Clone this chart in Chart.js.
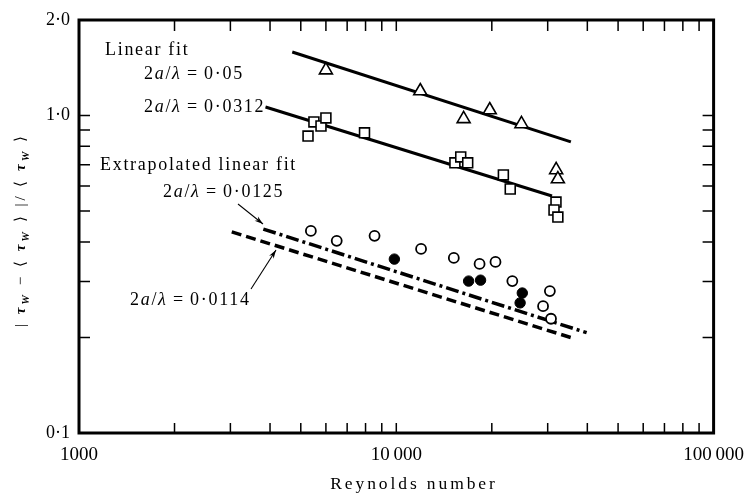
<!DOCTYPE html>
<html>
<head>
<meta charset="utf-8">
<script src="https://cdn.jsdelivr.net/npm/chart.js@4.4.1/dist/chart.umd.min.js"></script>
<style>
  html, body { margin: 0; padding: 0; background: #fff; }
</style>
</head>
<body>
<canvas id="reChart" width="755" height="498"></canvas>
<script>
// 2a/λ = 0.05 (triangles)
const triRe  = [6000, 11900, 16300, 19700, 24800, 31900, 32300];
const triVal = [1.39, 1.195, 0.976, 1.041, 0.941, 0.674, 0.631];
// 2a/λ = 0.0312 (squares)
const sqRe  = [5270, 5500, 5790, 6000, 7940, 15300, 15960, 16790, 21750, 22860, 31860, 31410, 32300];
const sqVal = [0.862, 0.955, 0.927, 0.983, 0.882, 0.710, 0.741, 0.710, 0.650, 0.587, 0.534, 0.504, 0.479];
// 2a/λ = 0.0125 (open circles) and 0.0114 (filled circles)
const openRe  = [5380, 6490, 8540, 11970, 15180, 18300, 20540, 23210, 30480, 29010, 30730];
const openVal = [0.433, 0.403, 0.418, 0.380, 0.356, 0.341, 0.346, 0.301, 0.280, 0.251, 0.229];
const fillRe  = [9860, 16900, 18430, 24950, 24560];
const fillVal = [0.353, 0.301, 0.303, 0.276, 0.257];

// fit lines (end points)
const fit005Re   = [4700, 35500];
const fit005Val  = [1.586, 0.826];
const fit0312Re  = [3870, 30950];
const fit0312Val = [1.064, 0.558];
const ext0125Re  = [3810, 39800];
const ext0125Val = [0.439, 0.207];
const ext0114Re  = [3030, 35980];
const ext0114Val = [0.430, 0.199];

// axes
const xTicks = [1000, 10000, 100000];
const xTickLabels = ['1000', '10\u2009000', '100\u2009000'];
const yTicks = [0.1, 1, 2];
const yTickLabels = ['0·1', '1·0', '2·0'];
const xMinor = [2000, 3000, 4000, 5000, 6000, 7000, 8000, 9000, 10000,
                20000, 30000, 40000, 50000, 60000, 70000, 80000, 90000];
const yMinor = [0.2, 0.3, 0.4, 0.5, 0.6, 0.7, 0.8, 0.9, 1.0];

const SERIF = '"Liberation Serif", "Times New Roman", serif';

function pts(xs, ys) {
  return xs.map((x, i) => ({ x: x, y: ys[i] }));
}

// draw a row of text pieces (italic / subscript) starting at x
function drawRuns(ctx, runs, x, y, size) {
  let cx = x;
  runs.forEach(r => {
    const fs = r.sub ? size * 0.72 : size;
    ctx.font = (r.b ? 'bold ' : '') + (r.it ? 'italic ' : '') + fs + 'px ' + SERIF;
    ctx.fillText(r.t, cx, y + (r.sub ? size * 0.28 : 0));
    cx += ctx.measureText(r.t).width;
  });
  return cx - x;
}
function runsWidth(ctx, runs, size) {
  let w = 0;
  runs.forEach(r => {
    const fs = r.sub ? size * 0.72 : size;
    ctx.font = (r.b ? 'bold ' : '') + (r.it ? 'italic ' : '') + fs + 'px ' + SERIF;
    w += ctx.measureText(r.t).width;
  });
  return w;
}
function ratio(v) {
  return [{ t: '2' }, { t: 'a', it: true }, { t: '/' }, { t: 'λ', it: true }, { t: '\u2009=\u2009' + v }];
}

function arrow(ctx, x1, y1, x2, y2) {
  const a = Math.atan2(y2 - y1, x2 - x1);
  ctx.beginPath();
  ctx.moveTo(x1, y1);
  ctx.lineTo(x2, y2);
  ctx.lineWidth = 1.1;
  ctx.stroke();
  ctx.beginPath();
  ctx.moveTo(x2, y2);
  ctx.lineTo(x2 - 9 * Math.cos(a - 0.3), y2 - 9 * Math.sin(a - 0.3));
  ctx.lineTo(x2 - 6 * Math.cos(a), y2 - 6 * Math.sin(a));
  ctx.lineTo(x2 - 9 * Math.cos(a + 0.3), y2 - 9 * Math.sin(a + 0.3));
  ctx.closePath();
  ctx.fill();
}

// box round the plot with inward ticks
const framePlugin = {
  id: 'frame',
  beforeDatasetsDraw(chart) {
    const { ctx, chartArea: a, scales } = chart;
    ctx.save();
    ctx.strokeStyle = '#000';
    ctx.lineWidth = 1.5;
    ctx.beginPath();
    xMinor.forEach(v => {
      const px = scales.x.getPixelForValue(v);
      ctx.moveTo(px, a.bottom); ctx.lineTo(px, a.bottom - 10);
      ctx.moveTo(px, a.top);    ctx.lineTo(px, a.top + 11);
    });
    yMinor.forEach(v => {
      const py = scales.y.getPixelForValue(v);
      ctx.moveTo(a.left, py);  ctx.lineTo(a.left + 11, py);
      ctx.moveTo(a.right, py); ctx.lineTo(a.right - 11, py);
    });
    ctx.stroke();
    ctx.lineWidth = 3;
    ctx.strokeRect(a.left, a.top, a.right - a.left, a.bottom - a.top);
    ctx.restore();
  },
  afterDraw(chart) {
    const ctx = chart.ctx;
    ctx.save();
    ctx.fillStyle = '#000';
    ctx.strokeStyle = '#000';
    ctx.textBaseline = 'alphabetic';
    ctx.textAlign = 'left';

    ctx.letterSpacing = '1.7px';
    drawRuns(ctx, [{ t: 'Linear fit' }], 105, 55, 18);
    drawRuns(ctx, ratio('0·05'), 144, 79, 18);
    drawRuns(ctx, ratio('0·0312'), 144, 112, 18);
    drawRuns(ctx, [{ t: 'Extrapolated linear fit' }], 100, 170, 18);
    drawRuns(ctx, ratio('0·0125'), 163, 197, 18);
    drawRuns(ctx, ratio('0·0114'), 130, 305, 18);

    arrow(ctx, 238, 204, 263, 224);
    arrow(ctx, 251, 289, 276, 250);

    // x axis title
    ctx.letterSpacing = '2.9px';
    const xt = [{ t: 'Reynolds number' }];
    const xw = runsWidth(ctx, xt, 17.5);
    drawRuns(ctx, xt, 414 - xw / 2, 489, 17.5);

    // y axis title
    ctx.letterSpacing = '3px';
    const yt = [
      { t: '| ' }, { t: 'τ', it: true, b: true }, { t: 'W', sub: true, it: true, b: true }, { t: ' − ⟨ ' },
      { t: 'τ', it: true, b: true }, { t: 'W', sub: true, it: true, b: true }, { t: ' ⟩ |/ ⟨ ' },
      { t: 'τ', it: true, b: true }, { t: 'W', sub: true, it: true, b: true }, { t: ' ⟩' }
    ];
    ctx.translate(25, 230);
    ctx.rotate(-Math.PI / 2);
    const yw = runsWidth(ctx, yt, 15);
    drawRuns(ctx, yt, -yw / 2, 0, 15);
    ctx.restore();
  }
};

const lineBase = { showLine: true, pointRadius: 0, borderColor: '#000', borderCapStyle: 'butt', order: 2 };

new Chart(document.getElementById('reChart').getContext('2d'), {
  type: 'scatter',
  data: {
    datasets: [
      Object.assign({ label: 'fit 0.05', data: pts(fit005Re, fit005Val), borderWidth: 3 }, lineBase),
      Object.assign({ label: 'fit 0.0312', data: pts(fit0312Re, fit0312Val), borderWidth: 3 }, lineBase),
      Object.assign({ label: 'extrapolated 0.0125', data: pts(ext0125Re, ext0125Val), borderWidth: 3.5,
        borderDash: [13, 4, 3, 4] }, lineBase),
      Object.assign({ label: 'extrapolated 0.0114', data: pts(ext0114Re, ext0114Val), borderWidth: 3.5,
        borderDash: [10, 5] }, lineBase),
      {
        label: '0.05', data: pts(triRe, triVal), pointStyle: 'triangle', pointRadius: 7.5,
        borderWidth: 1.6, borderColor: '#000', backgroundColor: '#fff', order: 1
      },
      {
        label: '0.0312', data: pts(sqRe, sqVal), pointStyle: 'rect', pointRadius: 7,
        borderWidth: 1.6, borderColor: '#000', backgroundColor: '#fff', order: 1
      },
      {
        label: '0.0125', data: pts(openRe, openVal), pointStyle: 'circle', pointRadius: 5,
        borderWidth: 1.8, borderColor: '#000', backgroundColor: '#fff', order: 1
      },
      {
        label: '0.0114', data: pts(fillRe, fillVal), pointStyle: 'circle', pointRadius: 5.2,
        borderWidth: 1, borderColor: '#000', backgroundColor: '#000', order: 1
      }
    ]
  },
  options: {
    responsive: false,
    devicePixelRatio: 1,
    animation: false,
    layout: { padding: { top: 20, right: 36, left: 0, bottom: 0 } },
    plugins: {
      legend: { display: false },
      tooltip: { enabled: false }
    },
    scales: {
      x: {
        type: 'logarithmic',
        min: 1000,
        max: 100000,
        afterBuildTicks: s => { s.ticks = xTicks.map(v => ({ value: v })); },
        afterFit: s => { s.height = 65; },
        ticks: {
          callback: v => xTickLabels[xTicks.indexOf(v)],
          font: { family: SERIF, size: 19 },
          color: '#000',
          padding: 11,
          maxRotation: 0,
          autoSkip: false
        },
        grid: { display: false, drawTicks: false },
        border: { display: false }
      },
      y: {
        type: 'logarithmic',
        min: 0.1,
        max: 2,
        afterBuildTicks: s => { s.ticks = yTicks.map(v => ({ value: v })); },
        afterFit: s => { s.width = 79; },
        ticks: {
          callback: v => yTickLabels[yTicks.indexOf(v)],
          font: { family: SERIF, size: 18 },
          color: '#000',
          padding: 9,
          autoSkip: false
        },
        grid: { display: false, drawTicks: false },
        border: { display: false }
      }
    }
  },
  plugins: [framePlugin]
});
</script>
</body>
</html>
